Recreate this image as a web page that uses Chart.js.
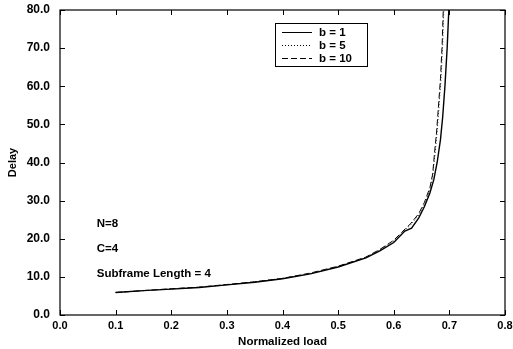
<!DOCTYPE html>
<html><head><meta charset="utf-8">
<script src="https://cdn.jsdelivr.net/npm/chart.js@4/dist/chart.umd.min.js"></script>
<style>html,body{margin:0;padding:0;background:#fff}#wrap{width:513px;height:349px;position:relative}</style>
</head><body><div id="wrap"><canvas id="c"></canvas></div>
<script>
const xTicks = [0.0,0.1,0.2,0.3,0.4,0.5,0.6,0.7,0.8];
const yTicks = [0,10,20,30,40,50,60,70,80];
const seriesNames = ['b = 1','b = 5','b = 10'];
const load1 = [0.10,0.15,0.20,0.25,0.30,0.35,0.40,0.45,0.50,0.55,0.575,0.60,0.62,0.632,0.645,0.655,0.665,0.672,0.678,0.684,0.688,0.692,0.696,0.699,0.700];
const delay1 = [5.9,6.4,6.8,7.2,7.9,8.6,9.5,10.8,12.6,15.0,16.8,19.0,22.0,22.8,25.5,28.4,32.0,35.5,40,46,52,60,70,80,83];
const load5 = [0.10,0.15,0.20,0.25,0.30,0.35,0.40,0.45,0.50,0.55,0.575,0.60,0.615,0.63,0.645,0.655,0.665,0.670,0.674,0.678,0.681,0.685,0.688,0.690,0.691];
const delay5 = [5.9,6.4,6.8,7.3,7.9,8.7,9.6,10.9,12.7,15.1,17.1,19.4,21.6,23.6,26.2,29.0,32.8,36.5,42,48,54,62,71,80,83];
const load10 = [0.10,0.15,0.20,0.25,0.30,0.35,0.40,0.45,0.50,0.55,0.575,0.60,0.615,0.63,0.645,0.655,0.665,0.670,0.673,0.677,0.680,0.684,0.687,0.689,0.690];
const delay10 = [5.9,6.4,6.9,7.3,8.0,8.7,9.6,11.0,12.8,15.2,17.2,19.6,21.8,23.9,26.6,29.5,33.4,37.0,42,48,54,62,71,80,83];
const notes = [{x:0.066,y:24.0,t:'N=8'},{x:0.066,y:17.4,t:'C=4'},{x:0.066,y:10.8,t:'Subframe Length = 4'}];

const FONT = '"Liberation Sans", Arial, sans-serif';
const pts = (xs, ys) => xs.map((x,i)=>({x, y: ys[i]}));
const dashes = [[], [1,2], [6,3]];

const frame = {
  id:'frame',
  afterDatasetsDraw(chart){
    const {ctx, chartArea:a, scales:{x, y}} = chart;
    ctx.save();
    ctx.strokeStyle='#000'; ctx.lineWidth=1.2; ctx.setLineDash([]);
    ctx.strokeRect(a.left, a.top, a.right-a.left, a.bottom-a.top);
    ctx.lineWidth=1;
    ctx.beginPath();
    xTicks.forEach(v=>{const p=Math.round(x.getPixelForValue(v))+0.5;
      ctx.moveTo(p,a.bottom); ctx.lineTo(p,a.bottom-5);
      ctx.moveTo(p,a.top); ctx.lineTo(p,a.top+5);});
    yTicks.forEach(v=>{const p=Math.round(y.getPixelForValue(v))+0.5;
      ctx.moveTo(a.left,p); ctx.lineTo(a.left+5,p);
      ctx.moveTo(a.right,p); ctx.lineTo(a.right-5,p);});
    ctx.stroke();
    ctx.fillStyle='#000'; ctx.font='bold 11.5px '+FONT; ctx.textBaseline='middle'; ctx.textAlign='left';
    notes.forEach(n=>ctx.fillText(n.t, x.getPixelForValue(n.x), y.getPixelForValue(n.y)));
    const bx=275, by=23, bw=92, bh=43;
    ctx.fillStyle='#fff'; ctx.fillRect(bx,by,bw,bh);
    ctx.lineWidth=1; ctx.strokeRect(bx+0.5,by+0.5,bw,bh);
    ctx.font='bold 11.5px '+FONT;
    seriesNames.forEach((s,i)=>{
      const yy = by+9+i*13;
      ctx.setLineDash(dashes[i]); ctx.lineWidth=1;
      ctx.beginPath(); ctx.moveTo(282,yy+0.5); ctx.lineTo(312,yy+0.5); ctx.stroke();
      ctx.setLineDash([]);
      ctx.fillStyle='#000'; ctx.fillText(s, 319, yy+1);
    });
    ctx.restore();
  }
};

new Chart(document.getElementById('c'), {
  type:'line',
  data:{datasets:[
    {label:seriesNames[0], data:pts(load1,delay1), borderColor:'#000', borderWidth:1.4, borderDash:dashes[0], pointRadius:0, tension:0},
    {label:seriesNames[1], data:pts(load5,delay5), borderColor:'#222', borderWidth:1, borderDash:dashes[1], pointRadius:0, tension:0},
    {label:seriesNames[2], data:pts(load10,delay10), borderColor:'#000', borderWidth:1, borderDash:dashes[2], pointRadius:0, tension:0}
  ]},
  options:{
    responsive:true, maintainAspectRatio:false, animation:false,
    layout:{padding:{left:0,right:0,top:0,bottom:0}},
    plugins:{legend:{display:false}, tooltip:{enabled:false}},
    scales:{
      x:{type:'linear', min:0, max:0.8,
        afterBuildTicks:s=>{s.ticks=xTicks.map(v=>({value:v}));},
        afterFit:s=>{s.height=34; s.paddingRight=8; s.paddingLeft=0;},
        grid:{display:false, drawTicks:false}, border:{display:false},
        ticks:{color:'#000', font:{family:FONT, weight:'bold', size:11}, padding:4, maxRotation:0,
          callback:v=>v.toFixed(1)},
        title:{display:true, text:'Normalized load', color:'#000', font:{family:FONT, weight:'bold', size:11.5}, padding:{top:0,bottom:0}}
      },
      y:{type:'linear', min:0, max:80,
        afterBuildTicks:s=>{s.ticks=yTicks.map(v=>({value:v}));},
        afterFit:s=>{s.width=60; s.paddingTop=10; s.paddingBottom=0;},
        grid:{display:false, drawTicks:false}, border:{display:false},
        ticks:{color:'#000', font:{family:FONT, weight:'bold', size:12}, padding:10,
          callback:v=>v.toFixed(1)},
        title:{display:true, text:'Delay', color:'#000', font:{family:FONT, weight:'bold', size:11}, padding:{top:6,bottom:0}}
      }
    }
  },
  plugins:[frame]
});
</script></body></html>
